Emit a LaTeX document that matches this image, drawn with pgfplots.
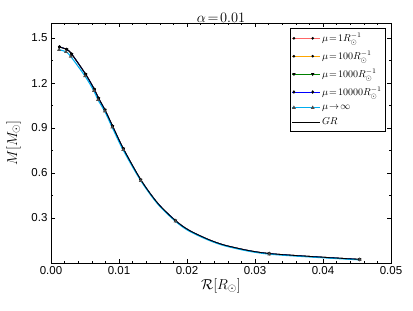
\documentclass[border=0pt]{standalone}
\usepackage{pgfplots}
\pgfplotsset{compat=1.18}
\usepackage{fontspec}
\setmainfont{Liberation Sans}
\pgfplotstableread{
x y
0.00125 1.440
0.0023 1.424
0.00304 1.393
0.0051 1.258
0.00637 1.158
0.0070 1.098
0.00794 1.020
0.00905 0.913
0.01064 0.762
0.0132 0.555
0.0157 0.398
0.0183 0.283
0.0203 0.218
0.0234 0.152
0.0263 0.110
0.0321 0.063
0.0454 0.024
}\dataA
\pgfplotstableread{
x y
0.00118 1.422
0.0022 1.408
0.0029 1.377
0.0050 1.246
0.0063 1.148
0.0069 1.088
0.0079 1.011
0.0090 0.904
0.0106 0.754
0.0132 0.549
0.0157 0.393
0.0183 0.278
0.0203 0.213
0.0234 0.148
0.0263 0.106
0.0321 0.059
0.0454 0.021
}\dataC
\begin{document}
\begin{tikzpicture}[x=1pt,y=1pt]
\begin{axis}[
  scale only axis, width=340pt, height=240pt,
  xmin=0, xmax=0.05, ymin=0, ymax=1.6,
  xtick={0,0.01,0.02,0.03,0.04,0.05},
  xticklabels={0.00,0.01,0.02,0.03,0.04,0.05},
  ytick={0.3,0.6,0.9,1.2,1.5},
  yticklabels={0.3,0.6,0.9,1.2,1.5},
  minor x tick num=4, minor y tick num=1,
  tick align=inside, tick pos=both,
  major tick length=4pt, minor tick length=2pt,
  tick style={black, line width=0.5pt},
  scaled x ticks=false,
  tick label style={font=\fontsize{11.5}{13}\selectfont},
  axis line style={line width=0.8pt},
  xlabel={$\mathcal{R}[R_\odot]$},
  ylabel={$M[M_\odot]$},
  label style={font=\fontsize{15}{17}\selectfont},
  title={$\alpha\!=\!0.01$},
  title style={font=\fontsize{15}{17}\selectfont, yshift=-9pt},
  xlabel style={yshift=3pt},
  ylabel style={yshift=4pt},
  legend style={at={(0.985,0.98)}, anchor=north east, font=\fontsize{10}{12}\selectfont,
    draw=black, line width=0.8pt, inner xsep=2pt, inner ysep=3pt, row sep=3.6pt, cells={anchor=west}},
  legend image code/.code={
    \path (-0.05cm,0cm) -- (0.9cm,0cm);
    \draw[#1, mark=none] (0cm,0cm) -- (0.66cm,0cm);
    \draw[#1, draw=none] plot coordinates {(0cm,0cm) (0.66cm,0cm)};
  },
  legend entries={{$\mu\!=\!1R_\odot^{-1}$},{$\mu\!=\!100R_\odot^{-1}$},{$\mu\!=\!1000R_\odot^{-1}$},{$\mu\!=\!10000R_\odot^{-1}$},{$\mu\!\rightarrow\!\infty$},{$GR$}},
  every axis plot/.append style={mark indices={1,2,3,4,5,6,7,8,9,10,12,16,17}},
]
\addplot[red!60, line width=0.9pt, mark=*, mark size=0.8pt, mark options={fill=black, draw=black}, smooth] table {\dataA};
\addplot[orange!70!yellow, line width=0.9pt, mark=*, mark size=0.8pt, mark options={fill=orange!60!black, draw=black}, smooth] table {\dataA};
\addplot[green!50!black, line width=0.9pt, mark=triangle*, mark size=1.1pt, mark options={fill=green!30!black, draw=black, rotate=180}, smooth] table {\dataA};
\addplot[blue, line width=0.9pt, mark=diamond*, mark size=1.1pt, mark options={fill=blue!50!black, draw=black}, smooth] table {\dataA};
\addplot[cyan, line width=1.1pt, mark=triangle*, mark size=1.1pt, mark options={fill=teal!70!black, draw=black!70}, smooth] table {\dataC};
\addplot[black, line width=0.8pt, no marks, smooth] table {\dataA};
\end{axis}
\path[use as bounding box] ([xshift=-51pt,yshift=-47pt]current axis.south west) rectangle ([xshift=22pt,yshift=23pt]current axis.north east);
\end{tikzpicture}
\end{document}
